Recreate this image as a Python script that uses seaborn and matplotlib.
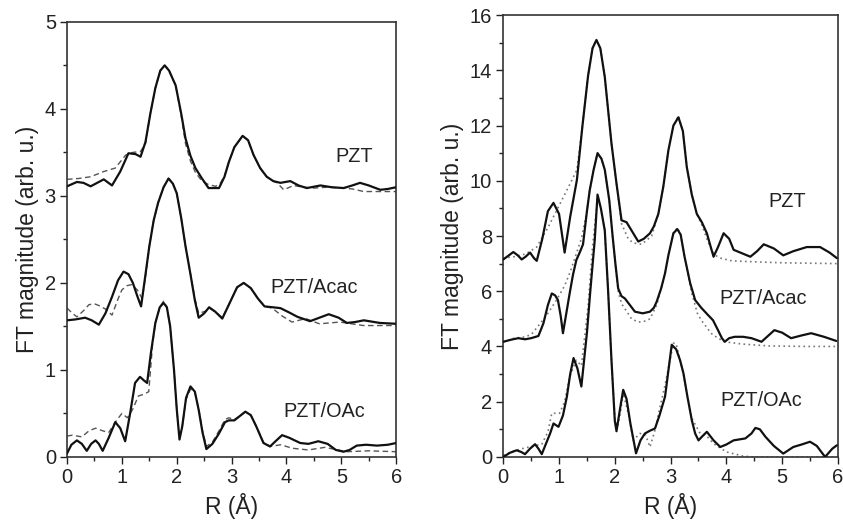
import matplotlib
matplotlib.use("Agg")
import matplotlib.pyplot as plt
from matplotlib.ticker import MultipleLocator
import seaborn as sns
import pandas as pd

# ---------------- Left panel data ----------------
L_pzt_exp_r = [0, 0.18, 0.3, 0.43, 0.55, 0.67, 0.82, 0.97, 1.12, 1.25, 1.34, 1.43, 1.52, 1.61, 1.7, 1.78, 1.86, 1.98, 2.08, 2.16, 2.25, 2.34, 2.46, 2.58, 2.77, 2.87, 2.95, 3.05, 3.2, 3.3, 3.4, 3.52, 3.64, 3.76, 3.89, 4.07, 4.22, 4.37, 4.62, 4.82, 5.04, 5.2, 5.34, 5.5, 5.71, 5.85, 6.0]
L_pzt_exp_v = [3.11, 3.16, 3.15, 3.11, 3.15, 3.19, 3.12, 3.28, 3.49, 3.48, 3.45, 3.62, 3.95, 4.24, 4.44, 4.5, 4.44, 4.27, 3.95, 3.66, 3.46, 3.32, 3.2, 3.09, 3.09, 3.22, 3.39, 3.56, 3.69, 3.64, 3.47, 3.32, 3.22, 3.17, 3.15, 3.17, 3.12, 3.09, 3.12, 3.1, 3.09, 3.12, 3.15, 3.12, 3.07, 3.08, 3.1]
L_pzt_fit_r = [0, 0.21, 0.43, 0.67, 0.88, 1.07, 1.2, 1.34, 1.43, 1.52, 1.61, 1.7, 1.78, 1.86, 1.98, 2.08, 2.16, 2.25, 2.34, 2.46, 2.58, 2.71, 2.8, 2.87, 2.95, 3.05, 3.2, 3.3, 3.4, 3.52, 3.64, 3.76, 3.83, 3.95, 4.13, 4.3, 4.5, 4.75, 5.0, 5.2, 5.41, 5.7, 6.0]
L_pzt_fit_v = [3.19, 3.2, 3.22, 3.28, 3.32, 3.47, 3.5, 3.51, 3.6, 3.95, 4.24, 4.44, 4.5, 4.44, 4.27, 3.93, 3.6, 3.4, 3.27, 3.17, 3.13, 3.11, 3.15, 3.23, 3.39, 3.56, 3.69, 3.64, 3.47, 3.32, 3.22, 3.17, 3.15, 3.07, 3.12, 3.1, 3.09, 3.1, 3.09, 3.08, 3.05, 3.05, 3.05]

L_acac_exp_r = [0, 0.15, 0.33, 0.45, 0.58, 0.7, 0.82, 0.93, 1.03, 1.12, 1.2, 1.28, 1.35, 1.42, 1.5, 1.58, 1.66, 1.76, 1.85, 1.93, 2.0, 2.08, 2.16, 2.25, 2.33, 2.4, 2.5, 2.59, 2.7, 2.83, 2.95, 3.1, 3.22, 3.35, 3.48, 3.6, 3.75, 3.89, 4.05, 4.2, 4.43, 4.6, 4.77, 4.95, 5.1, 5.25, 5.41, 5.7, 6.0]
L_acac_exp_v = [1.57, 1.58, 1.6, 1.57, 1.52, 1.65, 1.84, 2.03, 2.13, 2.1, 2.0, 1.85, 1.73, 2.05, 2.42, 2.72, 2.92, 3.1, 3.2, 3.14, 3.03, 2.75, 2.42, 2.1, 1.8, 1.6, 1.65, 1.72, 1.67, 1.59, 1.75, 1.95, 2.0, 1.94, 1.82, 1.73, 1.72, 1.71, 1.66, 1.61, 1.56, 1.6, 1.64, 1.6, 1.54, 1.55, 1.57, 1.54, 1.53]
L_acac_fit_r = [0, 0.1, 0.18, 0.3, 0.4, 0.5, 0.58, 0.7, 0.82, 0.92, 1.0, 1.1, 1.18, 1.28, 1.37, 1.45, 1.5, 1.58, 1.66, 1.76, 1.85, 1.93, 2.0, 2.08, 2.16, 2.25, 2.33, 2.4, 2.5, 2.62, 2.72, 2.83, 2.95, 3.1, 3.22, 3.35, 3.48, 3.6, 3.74, 3.92, 4.1, 4.35, 4.6, 4.97, 5.4, 6.0]
L_acac_fit_v = [1.71, 1.65, 1.61, 1.68, 1.75, 1.76, 1.74, 1.7, 1.63, 1.8, 1.92, 1.97, 1.98, 1.92, 1.82, 2.15, 2.42, 2.72, 2.92, 3.1, 3.2, 3.14, 3.03, 2.75, 2.42, 2.1, 1.82, 1.65, 1.67, 1.7, 1.66, 1.6, 1.75, 1.95, 2.0, 1.94, 1.82, 1.73, 1.71, 1.62, 1.55, 1.59, 1.53, 1.55, 1.51, 1.51]

L_oac_exp_r = [0, 0.08, 0.18, 0.27, 0.36, 0.44, 0.52, 0.58, 0.65, 0.76, 0.88, 0.97, 1.06, 1.15, 1.24, 1.33, 1.4, 1.46, 1.53, 1.61, 1.69, 1.76, 1.82, 1.88, 1.95, 2.0, 2.05, 2.1, 2.17, 2.25, 2.33, 2.4, 2.47, 2.54, 2.65, 2.77, 2.88, 2.95, 3.05, 3.15, 3.25, 3.35, 3.45, 3.58, 3.7, 3.8, 3.92, 4.05, 4.25, 4.4, 4.58, 4.75, 4.9, 5.04, 5.15, 5.28, 5.45, 5.65, 5.85, 6.0]
L_oac_exp_v = [0.04, 0.14, 0.19, 0.15, 0.07, 0.15, 0.19, 0.15, 0.07, 0.22, 0.4, 0.33, 0.18, 0.5, 0.85, 0.92, 0.88, 0.85, 1.2, 1.54, 1.72, 1.77, 1.72, 1.5, 1.0, 0.55, 0.2, 0.35, 0.68, 0.81, 0.75, 0.54, 0.28, 0.09, 0.15, 0.27, 0.4, 0.42, 0.42, 0.47, 0.52, 0.48, 0.35, 0.16, 0.12, 0.18, 0.25, 0.22, 0.16, 0.15, 0.18, 0.15, 0.08, 0.06, 0.08, 0.13, 0.14, 0.13, 0.14, 0.16]
L_oac_fit_r = [0, 0.1, 0.27, 0.4, 0.52, 0.65, 0.76, 0.88, 1.0, 1.1, 1.2, 1.3, 1.4, 1.49, 1.56, 1.61, 1.69, 1.76, 1.82, 1.88, 1.95, 2.0, 2.05, 2.1, 2.17, 2.25, 2.33, 2.4, 2.47, 2.54, 2.65, 2.77, 2.88, 2.95, 3.05, 3.15, 3.25, 3.35, 3.45, 3.58, 3.7, 3.9, 4.1, 4.4, 4.7, 5.1, 5.5, 6.0]
L_oac_fit_v = [0.24, 0.25, 0.23, 0.3, 0.33, 0.3, 0.28, 0.4, 0.5, 0.45, 0.55, 0.7, 0.72, 0.75, 1.3, 1.54, 1.72, 1.79, 1.72, 1.5, 1.0, 0.55, 0.22, 0.35, 0.66, 0.78, 0.74, 0.55, 0.3, 0.12, 0.17, 0.3, 0.43, 0.45, 0.43, 0.47, 0.52, 0.48, 0.35, 0.17, 0.12, 0.14, 0.1, 0.08, 0.11, 0.06, 0.07, 0.06]

# ---------------- Right panel data ----------------
R_pzt_exp_r = [0, 0.1, 0.18, 0.26, 0.33, 0.4, 0.48, 0.55, 0.6, 0.7, 0.8, 0.9, 1.0, 1.1, 1.2, 1.32, 1.42, 1.52, 1.6, 1.67, 1.74, 1.82, 1.94, 2.03, 2.12, 2.21, 2.3, 2.42, 2.52, 2.63, 2.7, 2.78, 2.87, 2.96, 3.05, 3.14, 3.22, 3.29, 3.38, 3.47, 3.56, 3.65, 3.72, 3.77, 3.85, 3.95, 4.05, 4.13, 4.25, 4.43, 4.55, 4.67, 4.85, 5.02, 5.2, 5.44, 5.68, 5.85, 5.98]
R_pzt_exp_v = [7.15, 7.3, 7.42, 7.3, 7.15, 7.25, 7.4, 7.2, 7.1, 7.9, 8.9, 9.2, 8.8, 7.4, 8.7, 10.03, 12.0, 13.8, 14.8, 15.1, 14.8, 13.76, 11.35, 9.9, 8.57, 8.5, 8.2, 7.8, 7.9, 8.1, 8.35, 8.8, 9.8, 11.1, 12.0, 12.3, 11.8, 10.5, 9.5, 8.8, 8.5, 8.1, 7.6, 7.25, 7.6, 8.1, 7.9, 7.5, 7.4, 7.25, 7.45, 7.7, 7.55, 7.3, 7.45, 7.6, 7.6, 7.4, 7.2]
R_pzt_fit_r = [0, 0.2, 0.4, 0.6, 0.8, 1.0, 1.2, 1.32, 1.42, 1.52, 1.6, 1.67, 1.74, 1.82, 1.94, 2.03, 2.12, 2.24, 2.33, 2.48, 2.66, 2.78, 2.87, 2.96, 3.05, 3.14, 3.22, 3.29, 3.38, 3.47, 3.56, 3.65, 3.72, 3.79, 3.91, 4.1, 4.45, 5.0, 6.0]
R_pzt_fit_v = [7.2, 7.25, 7.35, 7.6, 8.3, 9.1, 9.9, 10.4, 12.0, 13.8, 14.8, 15.1, 14.8, 13.76, 11.35, 9.9, 8.45, 7.9, 7.75, 7.7, 8.0, 8.8, 9.8, 11.1, 12.0, 12.35, 11.8, 10.5, 9.5, 8.8, 8.4, 7.9, 7.55, 7.31, 7.19, 7.1, 7.07, 7.03, 7.0]

R_acac_exp_r = [0, 0.15, 0.27, 0.39, 0.5, 0.63, 0.72, 0.8, 0.87, 0.93, 0.98, 1.03, 1.07, 1.13, 1.19, 1.25, 1.31, 1.37, 1.43, 1.5, 1.55, 1.62, 1.69, 1.76, 1.82, 1.9, 1.96, 2.01, 2.06, 2.12, 2.18, 2.27, 2.36, 2.5, 2.63, 2.7, 2.75, 2.83, 2.9, 2.96, 3.05, 3.12, 3.18, 3.25, 3.35, 3.44, 3.55, 3.67, 3.76, 3.85, 3.92, 3.97, 4.05, 4.15, 4.3, 4.45, 4.63, 4.86, 5.0, 5.16, 5.35, 5.52, 5.75, 5.97]
R_acac_exp_v = [4.17, 4.25, 4.3, 4.26, 4.3, 4.38, 4.84, 5.5, 5.92, 5.85, 5.68, 5.1, 4.48, 5.2, 5.92, 6.6, 7.13, 7.4, 7.7, 8.9, 9.66, 10.4, 11.0, 10.8, 10.4, 9.3, 8.0, 7.0, 6.1, 5.82, 5.74, 5.5, 5.26, 5.2, 5.26, 5.4, 5.62, 6.1, 6.65, 7.3, 8.1, 8.25, 8.05, 7.25, 6.3, 5.68, 5.4, 5.14, 4.95, 4.59, 4.3, 4.17, 4.3, 4.35, 4.35, 4.3, 4.17, 4.59, 4.5, 4.3, 4.4, 4.48, 4.35, 4.2]
R_acac_fit_r = [0, 0.2, 0.4, 0.51, 0.65, 0.8, 0.96, 1.1, 1.2, 1.3, 1.4, 1.5, 1.55, 1.62, 1.69, 1.76, 1.82, 1.9, 1.96, 2.01, 2.06, 2.12, 2.3, 2.42, 2.55, 2.63, 2.75, 2.83, 2.9, 2.96, 3.05, 3.12, 3.18, 3.25, 3.37, 3.48, 3.55, 3.73, 3.85, 3.97, 4.27, 4.75, 5.5, 6.0]
R_acac_fit_v = [4.17, 4.3, 4.35, 4.45, 4.8, 5.2, 5.7, 6.2, 6.7, 7.3, 7.9, 8.9, 9.66, 10.4, 11.0, 10.8, 10.4, 9.3, 8.0, 7.0, 6.0, 5.55, 5.0, 4.88, 4.92, 5.0, 5.5, 6.1, 6.65, 7.3, 8.1, 8.3, 8.05, 7.25, 6.0, 5.2, 4.95, 4.47, 4.3, 4.17, 4.09, 4.02, 4.0, 4.0]

R_oac_exp_r = [0, 0.12, 0.24, 0.32, 0.39, 0.48, 0.57, 0.63, 0.69, 0.77, 0.84, 0.9, 0.99, 1.07, 1.14, 1.2, 1.26, 1.33, 1.4, 1.5, 1.56, 1.64, 1.69, 1.75, 1.82, 1.88, 1.94, 2.0, 2.03, 2.09, 2.15, 2.21, 2.28, 2.38, 2.46, 2.54, 2.63, 2.72, 2.8, 2.9, 3.02, 3.1, 3.17, 3.23, 3.3, 3.38, 3.44, 3.5, 3.57, 3.65, 3.77, 3.89, 4.0, 4.13, 4.34, 4.45, 4.52, 4.6, 4.7, 4.85, 5.02, 5.2, 5.35, 5.5, 5.62, 5.77, 5.9, 5.98]
R_oac_exp_v = [0.0, 0.15, 0.24, 0.18, 0.1, 0.3, 0.46, 0.3, 0.1, 0.5, 0.85, 1.21, 1.09, 1.5, 2.18, 3.0, 3.58, 3.2, 2.55, 4.5, 6.0, 7.86, 9.5, 9.0, 8.2, 6.0, 3.5, 1.3, 0.93, 1.7, 2.43, 2.1, 1.2, 0.13, 0.6, 0.85, 0.95, 1.03, 1.5, 2.18, 4.06, 3.9, 3.5, 3.03, 2.2, 1.33, 0.85, 0.6, 0.75, 0.91, 0.6, 0.36, 0.45, 0.6, 0.67, 0.85, 1.05, 1.0, 0.73, 0.4, 0.12, 0.36, 0.45, 0.55, 0.4, 0.0, 0.3, 0.42]
R_oac_fit_r = [0, 0.2, 0.36, 0.55, 0.69, 0.8, 0.87, 1.01, 1.1, 1.19, 1.31, 1.4, 1.52, 1.6, 1.69, 1.75, 1.82, 1.88, 1.94, 2.0, 2.05, 2.1, 2.15, 2.25, 2.33, 2.45, 2.55, 2.63, 2.72, 2.82, 2.9, 3.05, 3.1, 3.17, 3.23, 3.3, 3.38, 3.53, 3.65, 3.77, 4.0, 4.3, 4.48, 5.0, 6.0]
R_oac_fit_v = [0.06, 0.22, 0.31, 0.4, 0.46, 0.9, 1.58, 1.58, 2.0, 2.9, 3.5, 3.3, 5.44, 7.6, 9.4, 9.0, 8.2, 6.0, 3.5, 1.4, 1.1, 1.6, 2.3, 1.5, 0.6, 0.85, 0.8, 0.36, 0.97, 1.9, 2.6, 4.12, 4.1, 3.5, 3.0, 2.2, 1.4, 0.85, 0.75, 0.48, 0.18, 0.03, 0.0, 0.0, 0.0]

# labels
sample_labels = ["PZT", "PZT/Acac", "PZT/OAc"]
left_label_pos = [(4.89, 3.45), (3.7, 1.95), (3.94, 0.52)]
right_label_pos = [(4.75, 9.25), (3.87, 5.72), (3.89, 2.06)]

sns.set_style("ticks")
plt.rcParams["font.family"] = ["Liberation Sans", "DejaVu Sans"]
plt.rcParams["xtick.direction"] = "out"
plt.rcParams["ytick.direction"] = "out"

fig = plt.figure(figsize=(8.43, 5.21), dpi=100)
ax1 = fig.add_axes([0.0795, 0.123, 0.3905, 0.835])
ax2 = fig.add_axes([0.597, 0.123, 0.397, 0.848])

def draw(ax, r, v, kind):
    df = pd.DataFrame({"R": r, "v": v})
    if kind == "exp":
        sns.lineplot(data=df, x="R", y="v", ax=ax, sort=False, estimator=None,
                     color="#111111", linewidth=1.6, zorder=3)
    elif kind == "dash":
        sns.lineplot(data=df, x="R", y="v", ax=ax, sort=False, estimator=None,
                     color="#555555", linewidth=1.0, zorder=2,
                     linestyle=(0, (4, 2.5)))
    else:
        sns.lineplot(data=df, x="R", y="v", ax=ax, sort=False, estimator=None,
                     color="#777777", linewidth=1.2, zorder=2,
                     linestyle=(0, (1, 2)))

left_sets = [(L_pzt_exp_r, L_pzt_exp_v, L_pzt_fit_r, L_pzt_fit_v),
             (L_acac_exp_r, L_acac_exp_v, L_acac_fit_r, L_acac_fit_v),
             (L_oac_exp_r, L_oac_exp_v, L_oac_fit_r, L_oac_fit_v)]
right_sets = [(R_pzt_exp_r, R_pzt_exp_v, R_pzt_fit_r, R_pzt_fit_v),
              (R_acac_exp_r, R_acac_exp_v, R_acac_fit_r, R_acac_fit_v),
              (R_oac_exp_r, R_oac_exp_v, R_oac_fit_r, R_oac_fit_v)]

for er, ev, fr, fv in left_sets:
    draw(ax1, fr, fv, "dash")
    draw(ax1, er, ev, "exp")
for er, ev, fr, fv in right_sets:
    draw(ax2, fr, fv, "dot")
    draw(ax2, er, ev, "exp")

for lab, (x, y) in zip(sample_labels, left_label_pos):
    ax1.text(x, y, lab, fontsize=14.3, ha="left", va="center", color="#222222")
for lab, (x, y) in zip(sample_labels, right_label_pos):
    ax2.text(x, y, lab, fontsize=14.3, ha="left", va="center", color="#222222")

for ax, ymax, ymaj, ymin in [(ax1, 5, 1, 0.5), (ax2, 16, 2, 1)]:
    ax.set_xlim(0, 6)
    ax.set_ylim(0, ymax)
    ax.xaxis.set_major_locator(MultipleLocator(1))
    ax.xaxis.set_minor_locator(MultipleLocator(0.5))
    ax.yaxis.set_major_locator(MultipleLocator(ymaj))
    ax.yaxis.set_minor_locator(MultipleLocator(ymin))
    ax.tick_params(which="major", length=5, width=1.0, labelsize=14.5, color="#222222",
                   labelcolor="#222222", pad=3)
    ax.tick_params(which="minor", length=3, width=1.0, color="#222222")
    ax.tick_params(top=False, right=False, which="both")
    for s in ax.spines.values():
        s.set_visible(True)
        s.set_linewidth(1.2)
        s.set_color("#333333")
    ax.set_xlabel("R (Å)", fontsize=16.5, color="#222222", labelpad=4)
    ax.set_ylabel("FT magnitude (arb. u.)", fontsize=16.5, color="#222222", labelpad=4)

fig.savefig("out.png", dpi=100)
